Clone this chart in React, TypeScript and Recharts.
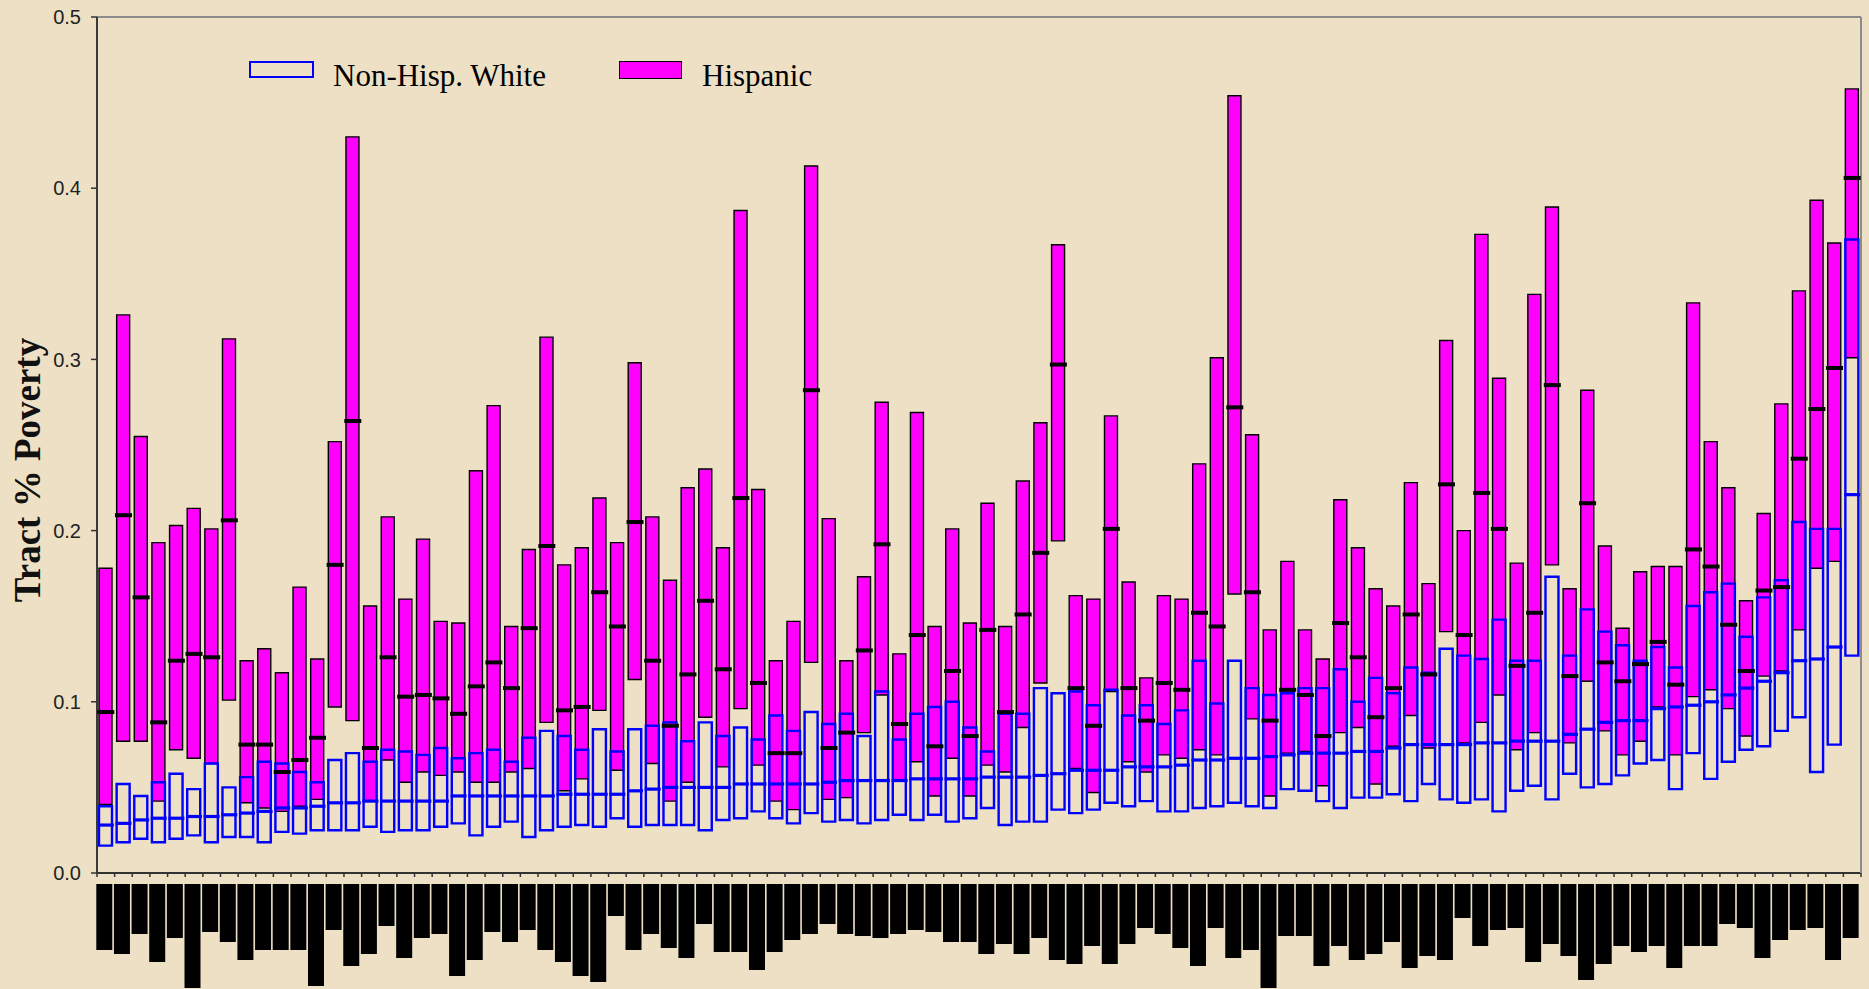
import React from 'react';
import { ComposedChart, BarChart, Bar, Scatter, XAxis, YAxis, Legend, Label } from 'recharts';

// ---------- data ----------
const categories: string[] = Array.from({ length: 100 }, (_, i) => `Tract ${i + 1}`);

const hispHigh = [
  0.178, 0.326, 0.255, 0.193, 0.203, 0.213, 0.201, 0.312, 0.124, 0.131,
  0.117, 0.167, 0.125, 0.252, 0.430, 0.156, 0.208, 0.160, 0.195, 0.147,
  0.146, 0.235, 0.273, 0.144, 0.189, 0.313, 0.180, 0.190, 0.219, 0.193,
  0.298, 0.208, 0.171, 0.225, 0.236, 0.190, 0.387, 0.224, 0.124, 0.147,
  0.413, 0.207, 0.124, 0.173, 0.275, 0.128, 0.269, 0.144, 0.201, 0.146,
  0.216, 0.144, 0.229, 0.263, 0.367, 0.162, 0.160, 0.267, 0.170, 0.114,
  0.162, 0.160, 0.239, 0.301, 0.454, 0.256, 0.142, 0.182, 0.142, 0.125,
  0.218, 0.190, 0.166, 0.156, 0.228, 0.169, 0.311, 0.200, 0.373, 0.289,
  0.181, 0.338, 0.389, 0.166, 0.282, 0.191, 0.143, 0.176, 0.179, 0.179,
  0.333, 0.252, 0.225, 0.159, 0.210, 0.274, 0.340, 0.393, 0.368, 0.458,
];
const hispMedian = [
  0.094, 0.209, 0.161, 0.088, 0.124, 0.128, 0.126, 0.206, 0.075, 0.075,
  0.059, 0.066, 0.079, 0.180, 0.264, 0.073, 0.126, 0.103, 0.104, 0.102,
  0.093, 0.109, 0.123, 0.108, 0.143, 0.191, 0.095, 0.097, 0.164, 0.144,
  0.205, 0.124, 0.086, 0.116, 0.159, 0.119, 0.219, 0.111, 0.070, 0.070,
  0.282, 0.073, 0.082, 0.130, 0.192, 0.087, 0.139, 0.074, 0.118, 0.080,
  0.142, 0.094, 0.151, 0.187, 0.297, 0.108, 0.086, 0.201, 0.108, 0.089,
  0.111, 0.107, 0.152, 0.144, 0.272, 0.164, 0.089, 0.107, 0.104, 0.080,
  0.146, 0.126, 0.091, 0.108, 0.151, 0.116, 0.227, 0.139, 0.222, 0.201,
  0.121, 0.152, 0.285, 0.115, 0.216, 0.123, 0.112, 0.122, 0.135, 0.110,
  0.189, 0.179, 0.145, 0.118, 0.165, 0.167, 0.242, 0.271, 0.295, 0.406,
];
const hispLow = [
  0.040, 0.077, 0.077, 0.042, 0.072, 0.067, 0.064, 0.101, 0.041, 0.038,
  0.036, 0.039, 0.043, 0.097, 0.089, 0.042, 0.066, 0.053, 0.059, 0.057,
  0.059, 0.053, 0.053, 0.059, 0.061, 0.088, 0.048, 0.055, 0.095, 0.060,
  0.113, 0.064, 0.042, 0.053, 0.091, 0.062, 0.096, 0.063, 0.042, 0.037,
  0.123, 0.043, 0.044, 0.082, 0.104, 0.054, 0.065, 0.045, 0.067, 0.045,
  0.063, 0.059, 0.085, 0.111, 0.194, 0.061, 0.047, 0.106, 0.065, 0.059,
  0.069, 0.067, 0.072, 0.069, 0.163, 0.090, 0.045, 0.070, 0.071, 0.051,
  0.082, 0.085, 0.052, 0.074, 0.092, 0.073, 0.141, 0.076, 0.088, 0.104,
  0.072, 0.082, 0.180, 0.076, 0.112, 0.083, 0.069, 0.077, 0.097, 0.069,
  0.103, 0.107, 0.096, 0.080, 0.115, 0.118, 0.142, 0.178, 0.182, 0.301,
];
const whiteHigh = [
  0.039, 0.052, 0.045, 0.053, 0.058, 0.049, 0.064, 0.050, 0.056, 0.065,
  0.064, 0.059, 0.053, 0.066, 0.070, 0.065, 0.072, 0.071, 0.069, 0.073,
  0.067, 0.070, 0.072, 0.065, 0.079, 0.083, 0.080, 0.072, 0.084, 0.071,
  0.084, 0.086, 0.088, 0.077, 0.088, 0.080, 0.085, 0.078, 0.092, 0.083,
  0.094, 0.087, 0.093, 0.080, 0.106, 0.078, 0.093, 0.097, 0.100, 0.085,
  0.071, 0.093, 0.093, 0.108, 0.105, 0.106, 0.098, 0.107, 0.092, 0.098,
  0.087, 0.095, 0.124, 0.099, 0.124, 0.108, 0.104, 0.105, 0.108, 0.108,
  0.119, 0.100, 0.114, 0.105, 0.120, 0.117, 0.131, 0.127, 0.125, 0.148,
  0.124, 0.124, 0.173, 0.127, 0.154, 0.141, 0.133, 0.124, 0.132, 0.120,
  0.156, 0.164, 0.169, 0.138, 0.161, 0.171, 0.205, 0.201, 0.201, 0.370,
];
const whiteLow = [
  0.016, 0.018, 0.020, 0.018, 0.020, 0.022, 0.018, 0.021, 0.021, 0.018,
  0.024, 0.023, 0.025, 0.025, 0.025, 0.027, 0.024, 0.025, 0.025, 0.027,
  0.029, 0.022, 0.027, 0.030, 0.021, 0.025, 0.027, 0.028, 0.027, 0.032,
  0.027, 0.028, 0.028, 0.028, 0.025, 0.031, 0.032, 0.036, 0.032, 0.029,
  0.035, 0.030, 0.031, 0.029, 0.031, 0.034, 0.031, 0.034, 0.030, 0.032,
  0.038, 0.028, 0.030, 0.030, 0.037, 0.035, 0.037, 0.041, 0.039, 0.042,
  0.036, 0.036, 0.038, 0.039, 0.041, 0.039, 0.038, 0.049, 0.048, 0.042,
  0.038, 0.044, 0.044, 0.046, 0.042, 0.052, 0.043, 0.041, 0.043, 0.036,
  0.048, 0.051, 0.043, 0.058, 0.050, 0.052, 0.057, 0.064, 0.066, 0.049,
  0.070, 0.055, 0.065, 0.072, 0.074, 0.083, 0.091, 0.059, 0.075, 0.127,
];
const whiteMedian = [
  0.028, 0.029, 0.031, 0.032, 0.032, 0.033, 0.033, 0.034, 0.035, 0.036,
  0.038, 0.038, 0.039, 0.041, 0.041, 0.042, 0.042, 0.042, 0.042, 0.042,
  0.045, 0.045, 0.045, 0.045, 0.045, 0.045, 0.046, 0.046, 0.046, 0.046,
  0.048, 0.049, 0.050, 0.050, 0.050, 0.050, 0.052, 0.052, 0.052, 0.052,
  0.052, 0.053, 0.054, 0.054, 0.054, 0.054, 0.055, 0.055, 0.055, 0.055,
  0.056, 0.056, 0.056, 0.057, 0.058, 0.060, 0.060, 0.060, 0.062, 0.062,
  0.062, 0.063, 0.066, 0.066, 0.067, 0.067, 0.068, 0.069, 0.070, 0.070,
  0.070, 0.071, 0.071, 0.073, 0.075, 0.075, 0.075, 0.075, 0.076, 0.076,
  0.077, 0.077, 0.077, 0.081, 0.084, 0.088, 0.089, 0.089, 0.096, 0.097,
  0.098, 0.100, 0.104, 0.108, 0.112, 0.117, 0.124, 0.125, 0.132, 0.221,
];
// lengths of the (illegible, blacked-out) category labels under the axis
const labelLength = [
  66, 70, 50, 78, 54, 104, 48, 58, 76, 66,
  66, 66, 102, 46, 82, 70, 42, 74, 54, 50,
  92, 76, 48, 58, 46, 66, 78, 92, 98, 32,
  66, 50, 64, 74, 40, 68, 68, 86, 68, 56,
  50, 40, 50, 52, 54, 50, 46, 48, 58, 58,
  70, 60, 70, 54, 76, 80, 62, 80, 60, 44,
  50, 64, 82, 44, 74, 66, 104, 52, 52, 82,
  62, 76, 70, 58, 84, 72, 76, 34, 62, 46,
  44, 78, 60, 72, 96, 80, 62, 68, 62, 84,
  62, 62, 40, 44, 74, 56, 46, 44, 76, 54,
];
const yTicks = [0, 0.1, 0.2, 0.3, 0.4, 0.5];

const data = categories.map((name, i) => ({
  name,
  hisp: [hispLow[i], hispHigh[i]],
  hispMed: hispMedian[i],
  white: [whiteLow[i], whiteHigh[i]],
  whiteMed: whiteMedian[i],
  label: labelLength[i],
}));

// ---------- layout / style ----------
const W = 1869;
const H = 989;
const PLOT_LEFT = 97;
const PLOT_RIGHT_GAP = 8;
const BAND = (W - PLOT_LEFT - PLOT_RIGHT_GAP) / categories.length;
const BG = '#EDE0C4';
const MAGENTA = '#FF00FF';
const BLUE = '#0000FF';

const BlackMedian = (p: any) => {
  if (p.cx == null || p.cy == null) return null;
  return <rect x={p.cx - 8.5} y={p.cy - 2} width={17} height={4} fill="#000" />;
};
const BlueMedian = (p: any) => {
  if (p.cx == null || p.cy == null) return null;
  return <rect x={p.cx - 8} y={p.cy - 1.6} width={16} height={3.2} fill={BLUE} />;
};

const BoundaryTick = (p: any) => {
  const { x, y, index } = p;
  const half = BAND / 2;
  return (
    <g>
      <line x1={x - half} x2={x - half} y1={y} y2={y + 4} stroke="#333" strokeWidth={1.5} />
      {index === categories.length - 1 ? (
        <line x1={x + half} x2={x + half} y1={y} y2={y + 4} stroke="#333" strokeWidth={1.5} />
      ) : null}
    </g>
  );
};

const YTitle = (p: any) => {
  const vb = p.viewBox || { x: 0, y: 17, width: 97, height: 856 };
  const cx = vb.x + 40;
  const cy = vb.y + 453;
  return (
    <text
      x={cx}
      y={cy}
      transform={`rotate(-90, ${cx}, ${cy})`}
      textAnchor="middle"
      fontFamily='"Liberation Serif", "Times New Roman", serif'
      fontWeight="bold"
      fontSize={37}
      fill="#111"
    >
      Tract % Poverty
    </text>
  );
};

const LegendContent = () => (
  <div
    style={{
      position: 'relative',
      width: 600,
      height: 40,
      fontFamily: '"Liberation Serif", "Times New Roman", serif',
      fontSize: 31,
      color: '#000',
    }}
  >
    <div style={{ position: 'absolute', left: 0, top: 6, width: 65, height: 17, border: `2.5px solid ${BLUE}`, boxSizing: 'border-box' }} />
    <div style={{ position: 'absolute', left: 84, top: 5, lineHeight: '31px', whiteSpace: 'nowrap' }}>Non-Hisp. White</div>
    <div style={{ position: 'absolute', left: 370, top: 6, width: 63, height: 18, background: MAGENTA, border: '1.5px solid #000', boxSizing: 'border-box' }} />
    <div style={{ position: 'absolute', left: 453, top: 5, lineHeight: '31px', whiteSpace: 'nowrap' }}>Hispanic</div>
  </div>
);

const LabelBlock = (p: any) => {
  const y0 = Math.min(p.y, p.y + p.height);
  const h = Math.abs(p.height);
  return <rect x={p.x - 1.7} y={y0} width={p.width} height={h} fill="#000" />;
};

export default function App() {
  return (
    <div style={{ position: 'absolute', left: 0, top: 0, width: W, height: H, background: BG, overflow: 'hidden' }}>
      <div style={{ position: 'absolute', left: 0, top: 0 }}>
        <ComposedChart
          width={W}
          height={H}
          data={data}
          margin={{ top: 0, right: 0, bottom: 96, left: 0 }}
          barSize={13}
          barGap={-13}
        >
          <XAxis
            dataKey="name"
            height={20}
            interval={0}
            tickSize={0}
            tickMargin={0}
            tickLine={false}
            tick={<BoundaryTick />}
            axisLine={{ stroke: '#333', strokeWidth: 2 }}
          />
          <XAxis
            xAxisId="top"
            orientation="top"
            dataKey="name"
            height={17}
            tick={false}
            tickLine={false}
            axisLine={{ stroke: '#8c8c8c', strokeWidth: 2 }}
          />
          <YAxis
            width={PLOT_LEFT}
            domain={[0, 0.5]}
            ticks={yTicks}
            type="number"
            allowDataOverflow
            tickFormatter={(v: number) => v.toFixed(1)}
            tickSize={6}
            tickMargin={10}
            tick={{ fontSize: 20, fill: '#222', fontFamily: '"Liberation Sans", Arial, sans-serif' }}
            tickLine={{ stroke: '#333', strokeWidth: 1.5 }}
            axisLine={{ stroke: '#3a3a3a', strokeWidth: 2 }}
          >
            <Label content={<YTitle />} />
          </YAxis>
          <YAxis
            yAxisId="right"
            orientation="right"
            width={PLOT_RIGHT_GAP}
            domain={[0, 0.5]}
            type="number"
            tick={false}
            tickLine={false}
            axisLine={{ stroke: '#8c8c8c', strokeWidth: 2 }}
          />
          <Legend
            layout="horizontal"
            verticalAlign="middle"
            align="center"
            content={<LegendContent />}
            wrapperStyle={{ position: 'absolute', left: 249, top: 55, width: 600, height: 40, bottom: 'auto', right: 'auto' }}
          />
          <Bar dataKey="hisp" name="Hispanic" fill={MAGENTA} stroke="#000" strokeWidth={1.4} isAnimationActive={false} />
          <Scatter dataKey="hispMed" shape={<BlackMedian />} isAnimationActive={false} legendType="none" />
          <Bar dataKey="white" name="Non-Hisp. White" fill="none" stroke={BLUE} strokeWidth={2.4} isAnimationActive={false} />
          <Scatter dataKey="whiteMed" shape={<BlueMedian />} isAnimationActive={false} legendType="none" />
        </ComposedChart>
      </div>
      <div style={{ position: 'absolute', left: 0, top: 884 }}>
        <BarChart
          width={W}
          height={105}
          data={data}
          margin={{ top: 0, right: PLOT_RIGHT_GAP, bottom: 0, left: PLOT_LEFT }}
          barSize={16}
        >
          <XAxis dataKey="name" hide />
          <YAxis hide reversed domain={[0, 105]} type="number" allowDataOverflow />
          <Bar dataKey="label" fill="#000" shape={<LabelBlock />} isAnimationActive={false} />
        </BarChart>
      </div>
    </div>
  );
}
